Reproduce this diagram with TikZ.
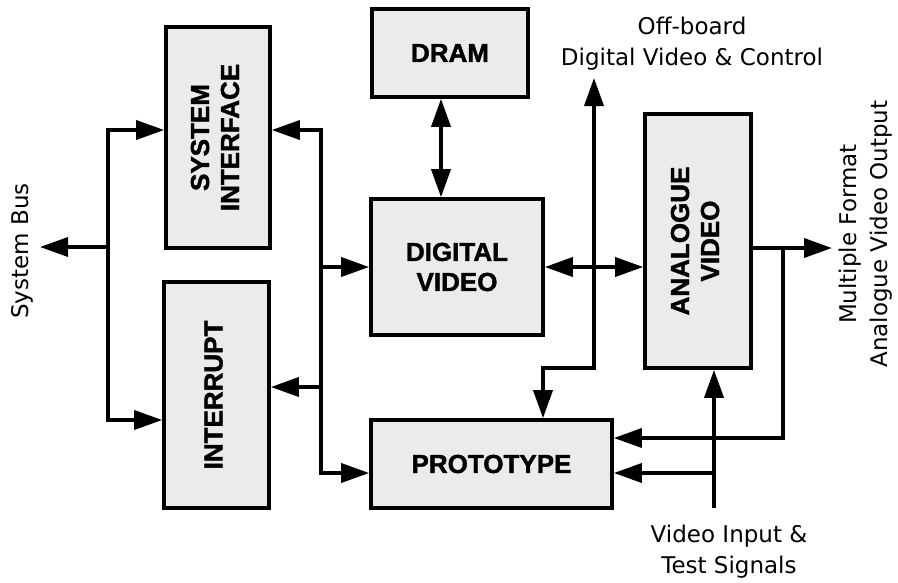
\documentclass[tikz,border=0pt]{standalone}
\usepackage{fontspec}
\usepackage{graphicx}
\setmainfont{DejaVu Sans}
\newfontfamily\blockfont[BoldFeatures={FakeBold=1.6}]{Liberation Sans}
\usetikzlibrary{arrows.meta,calc}
\newcommand{\vlabel}[1]{\rotatebox{90}{\begin{tabular}{@{}c@{}}#1\end{tabular}}}

\begin{document}
\begin{tikzpicture}[
        x=1pt, y=-1pt,
        line width=3.6pt,
        block/.style={rectangle, draw, fill=gray!16, inner sep=0pt, align=center, font=\blockfont\bfseries\fontsize{26}{30}\selectfont},
        link/.style={-{Triangle[length=28pt,width=19pt]}},
        dlink/.style={{Triangle[length=28pt,width=19pt]}-{Triangle[length=28pt,width=19pt]}},
        lab/.style={inner sep=0pt, align=center, font=\fontsize{23}{31}\selectfont}
    ]
        \fill[white] (0,0) rectangle (898,582);
        \useasboundingbox (0,0) rectangle (898,582);

        \node[block, minimum width=104pt, minimum height=221pt] (sysif) at (218,137.5) {\vlabel{SYSTEM\\INTERFACE}};
        \node[block, minimum width=105pt, minimum height=226pt] (intr) at (216.5,395) {\vlabel{INTERRUPT}};
        \node[block, minimum width=156pt, minimum height=88pt] (dram) at (450,53) {DRAM};
        \node[block, minimum width=172pt, minimum height=136pt] (digvid) at (457,267) {DIGITAL\\VIDEO};
        \node[block, minimum width=106pt, minimum height=254pt] (anavid) at (698,241) {\vlabel{ANALOGUE\\VIDEO}};
        \node[block, minimum width=241pt, minimum height=88pt] (proto) at (491.5,464) {PROTOTYPE};

        \node[lab, rotate=90] (sysbus) at (22,251) {System Bus};
        \node[lab, anchor=north] (offlab) at (692,15) {Off-board\\Digital Video \& Control};
        \node[lab, rotate=90] (outlab) at (866,234) {Multiple Format\\Analogue Video Output};
        \node[lab, anchor=north] (inlab) at (729,523) {Video Input \&\\Test Signals};

        \coordinate (lbt) at (108,130);
        \coordinate (lbb) at (108,420);
        \coordinate (lbm) at (108,247);
        \coordinate (bus) at (40,247);
        \coordinate (rbt) at (321,130);
        \coordinate (rbb) at (321,473);
        \coordinate (offb) at (594,78);
        \coordinate (offk) at (594,368);
        \coordinate (outj) at (783,248);
        \coordinate (mout) at (832,248);
        \coordinate (vin) at (714,508);
        \coordinate (vinj) at (714,473);

        \draw[dlink] (lbt -| sysif.west) -- (lbt) -- (lbb) -- (lbb -| intr.west);
        \draw[link] (lbm) -- (bus);
        \draw[dlink] (rbt -| sysif.east) -- (rbt) -- (rbb) -- (rbb -| proto.west);
        \draw[link] (rbt |- digvid.west) -- (digvid.west);
        \draw[link] (rbt |- 0,387) -- (intr.east |- 0,387);
        \draw[dlink] (dram.south -| 441,0) -- (digvid.north -| 441,0);
        \draw[dlink] (digvid.east |- 0,267) -- (anavid.west |- 0,267);
        \draw[dlink] (offb) -- (offk) -| (proto.north -| 543,0);
        \draw[link] (anavid.east |- mout) -- (mout);
        \draw[link] (outj) |- (proto.east |- 0,438);
        \draw[link] (vin) -- (vin |- anavid.south);
        \draw[link] (vinj) -- (proto.east |- vinj);
    \end{tikzpicture}
\end{document}
